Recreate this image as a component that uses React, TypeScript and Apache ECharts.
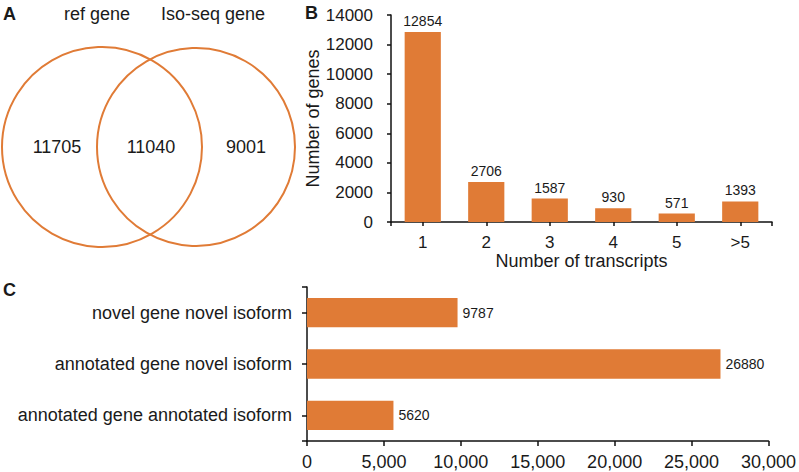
import React, { useEffect, useRef } from "react";
import * as echarts from "echarts";

const vennSetNames = ["ref gene", "Iso-seq gene"];
const vennCounts = [11705, 11040, 9001]; // ref only, shared, Iso-seq only

const transcriptCategories = ["1", "2", "3", "4", "5", ">5"];
const geneCounts = [12854, 2706, 1587, 930, 571, 1393];
const geneTicks = [0, 2000, 4000, 6000, 8000, 10000, 12000, 14000];

const isoformCategories = [
  "annotated gene annotated isoform",
  "annotated gene novel isoform",
  "novel gene novel isoform",
];
const isoformCounts = [5620, 26880, 9787];
const isoformTicks = [0, 5000, 10000, 15000, 20000, 25000, 30000];

const ORANGE = "#E07B36";
const INK = "#1a1a1a";
const FONT = "'Liberation Sans', Arial, sans-serif";

export default function App() {
  const ref = useRef<HTMLDivElement>(null);
  useEffect(() => {
    if (!ref.current) return;
    const chart = echarts.init(ref.current, undefined, { renderer: "svg" });
    const axisLine = { show: true, lineStyle: { color: "#111", width: 1.5 } };
    const tickStyle = { color: "#111", width: 1.5 };
    const txt = (text: string, x: number, y: number, size: number, bold = false, align = "center") => ({
      type: "text",
      x,
      y,
      style: {
        text,
        fontSize: size,
        fontFamily: FONT,
        fontWeight: bold ? "bold" : "normal",
        fill: INK,
        align,
        verticalAlign: "middle",
      },
    });
    chart.setOption({
      animation: false,
      backgroundColor: "#fff",
      textStyle: { fontFamily: FONT },
      graphic: [
        { type: "circle", shape: { cx: 102, cy: 147, r: 100 }, style: { fill: "none", stroke: ORANGE, lineWidth: 2 } },
        { type: "circle", shape: { cx: 196, cy: 147, r: 99 }, style: { fill: "none", stroke: ORANGE, lineWidth: 2 } },
        txt(vennSetNames[0], 97, 14, 18),
        txt(vennSetNames[1], 213, 14, 18),
        txt(String(vennCounts[0]), 57, 147, 18),
        txt(String(vennCounts[1]), 151, 147, 18),
        txt(String(vennCounts[2]), 246, 147, 18),
        txt("A", 3, 14, 18, true, "left"),
        txt("B", 305, 13, 18, true, "left"),
        txt("C", 3, 290, 18, true, "left"),
      ],
      grid: [
        { left: 391, top: 15, width: 381, height: 207 },
        { left: 307, top: 287, width: 463, height: 154 },
      ],
      xAxis: [
        {
          type: "category",
          gridIndex: 0,
          position: "bottom",
          data: transcriptCategories,
          axisLine,
          axisTick: { show: true, alignWithLabel: true, length: 4, lineStyle: tickStyle },
          axisLabel: { color: INK, fontSize: 17, margin: 12, fontFamily: FONT },
          name: "Number of transcripts",
          nameLocation: "middle",
          nameGap: 30,
          nameTextStyle: { color: INK, fontSize: 18, fontFamily: FONT },
        },
        {
          type: "category",
          gridIndex: 0,
          position: "bottom",
          data: [""],
          axisLine: { show: false },
          axisTick: { show: true, length: 4, lineStyle: tickStyle },
          axisLabel: { show: false },
        },
        {
          type: "value",
          gridIndex: 1,
          position: "bottom",
          min: isoformTicks[0],
          max: isoformTicks[isoformTicks.length - 1],
          interval: isoformTicks[1] - isoformTicks[0],
          splitLine: { show: false },
          axisLine,
          axisTick: { show: true, length: 5, lineStyle: tickStyle },
          axisLabel: {
            color: INK,
            fontSize: 18,
            margin: 12,
            fontFamily: FONT,
            formatter: (v: number) => v.toLocaleString("en-US"),
          },
        },
      ],
      yAxis: [
        {
          type: "value",
          gridIndex: 0,
          min: geneTicks[0],
          max: geneTicks[geneTicks.length - 1],
          interval: geneTicks[1] - geneTicks[0],
          splitLine: { show: false },
          axisLine,
          axisTick: { show: true, length: 4, lineStyle: tickStyle },
          axisLabel: { color: INK, fontSize: 17, margin: 18, fontFamily: FONT, formatter: (v: number) => String(v) },
          name: "Number of genes",
          nameLocation: "middle",
          nameGap: 66,
          nameTextStyle: { color: INK, fontSize: 18, fontFamily: FONT },
        },
        {
          type: "category",
          gridIndex: 1,
          position: "left",
          data: isoformCategories,
          axisLine,
          axisTick: { show: true, alignWithLabel: true, length: 5, lineStyle: tickStyle },
          axisLabel: { color: INK, fontSize: 18, margin: 15, fontFamily: FONT },
        },
        {
          type: "category",
          gridIndex: 1,
          position: "left",
          data: [""],
          axisLine: { show: false },
          axisTick: { show: true, length: 5, lineStyle: tickStyle },
          axisLabel: { show: false },
        },
      ],
      series: [
        {
          type: "bar",
          xAxisIndex: 0,
          yAxisIndex: 0,
          data: geneCounts,
          barWidth: "57%",
          itemStyle: { color: ORANGE },
          label: {
            show: true,
            position: "top",
            distance: 4,
            color: INK,
            fontSize: 14,
            fontFamily: FONT,
            formatter: (p: any) => String(p.value),
          },
        },
        {
          type: "bar",
          xAxisIndex: 2,
          yAxisIndex: 1,
          data: isoformCounts,
          barWidth: "57%",
          itemStyle: { color: ORANGE },
          label: {
            show: true,
            position: "right",
            distance: 5,
            color: INK,
            fontSize: 14,
            fontFamily: FONT,
            formatter: (p: any) => String(p.value),
          },
        },
      ],
    });
    return () => chart.dispose();
  }, []);
  return (
    <div
      ref={ref}
      style={{ position: "fixed", left: 0, top: 0, width: 799, height: 472, background: "#fff" }}
    />
  );
}
